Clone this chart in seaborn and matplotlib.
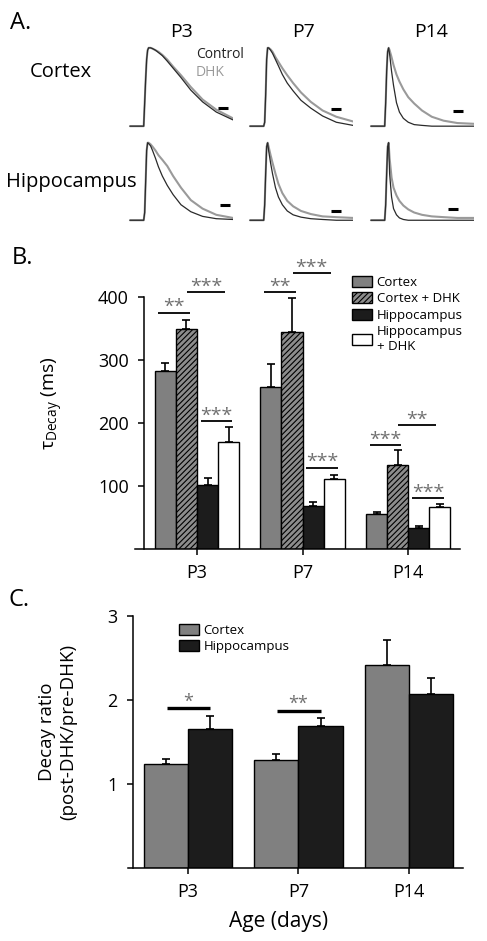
import matplotlib
matplotlib.use("Agg")
import matplotlib.pyplot as plt
from matplotlib.patches import Patch
import numpy as np
import pandas as pd
import seaborn as sns

# ---- data ----
ages = ["P3", "P7", "P14"]

# panel A: normalised example currents (time in trace units, 0..105)
trace_t = [0, 14, 15, 16, 17, 18, 19, 21, 23, 26, 29, 33, 38, 44, 52, 62, 74, 88, 105]
ctx_p3_ctrl = [0, 0, 0.3, 0.6, 0.85, 0.97, 1.0, 1.0, 0.99, 0.97, 0.94, 0.9, 0.83, 0.74, 0.62, 0.46, 0.31, 0.18, 0.08]
ctx_p3_dhk = [0, 0, 0.3, 0.6, 0.85, 0.97, 1.0, 1.0, 0.99, 0.97, 0.95, 0.91, 0.85, 0.76, 0.65, 0.5, 0.34, 0.21, 0.1]
ctx_p7_ctrl = [0, 0, 0.05, 0.4, 0.85, 1.0, 1.0, 0.97, 0.93, 0.85, 0.77, 0.66, 0.55, 0.45, 0.33, 0.23, 0.13, 0.05, 0.01]
ctx_p7_dhk = [0, 0, 0.05, 0.4, 0.85, 1.0, 1.0, 0.98, 0.95, 0.88, 0.82, 0.74, 0.65, 0.55, 0.43, 0.31, 0.2, 0.12, 0.06]
ctx_p14_ctrl = [0, 0, 0.3, 0.7, 0.95, 1.0, 0.92, 0.7, 0.52, 0.3, 0.18, 0.1, 0.05, 0.02, 0.01, 0, 0, 0, 0]
ctx_p14_dhk = [0, 0, 0.3, 0.7, 0.95, 1.0, 0.97, 0.88, 0.78, 0.66, 0.57, 0.47, 0.37, 0.29, 0.2, 0.12, 0.07, 0.04, 0.03]
hip_p3_ctrl = [0, 0, 0.1, 0.5, 0.9, 1.0, 0.99, 0.96, 0.9, 0.8, 0.69, 0.57, 0.45, 0.33, 0.2, 0.11, 0.05, 0.02, 0.01]
hip_p3_dhk = [0, 0, 0.1, 0.5, 0.9, 1.0, 1.0, 0.98, 0.95, 0.9, 0.84, 0.78, 0.7, 0.57, 0.42, 0.26, 0.15, 0.07, 0.03]
hip_p7_ctrl = [0, 0, 0.2, 0.6, 0.95, 1.0, 0.9, 0.74, 0.6, 0.42, 0.3, 0.2, 0.12, 0.07, 0.04, 0.02, 0.01, 0, 0]
hip_p7_dhk = [0, 0, 0.2, 0.6, 0.95, 1.0, 0.95, 0.84, 0.74, 0.6, 0.47, 0.35, 0.25, 0.18, 0.12, 0.08, 0.05, 0.04, 0.03]
hip_p14_ctrl = [0, 0, 0.2, 0.6, 0.95, 1.0, 0.6, 0.3, 0.15, 0.07, 0.03, 0.01, 0, 0, 0, 0, 0, 0, 0]
hip_p14_dhk = [0, 0, 0.2, 0.6, 0.95, 1.0, 0.8, 0.55, 0.42, 0.32, 0.25, 0.19, 0.14, 0.1, 0.07, 0.05, 0.04, 0.03, 0.03]

# panel B: decay time constants (ms), mean and SEM
conditions_b = ["Cortex", "Cortex + DHK", "Hippocampus", "Hippocampus\n+ DHK"]
tau_ctx = [283, 257, 55]
tau_ctx_dhk = [350, 345, 134]
tau_hip = [102, 68, 33]
tau_hip_dhk = [170, 111, 66]
sem_ctx = [12, 37, 4]
sem_ctx_dhk = [14, 54, 23]
sem_hip = [11, 6, 3]
sem_hip_dhk = [23, 7, 6]
# (age index, first bar, second bar, height, label)
sig_b = [(0, 0, 1, 375, "**"), (0, 1, 3, 408, "***"), (0, 2, 3, 203, "***"),
         (1, 0, 1, 408, "**"), (1, 1, 3, 438, "***"), (1, 2, 3, 129, "***"),
         (2, 0, 1, 165, "***"), (2, 1, 3, 197, "**"), (2, 2, 3, 81, "***")]

# panel C: decay ratio post-DHK / pre-DHK
regions_c = ["Cortex", "Hippocampus"]
ratio_ctx = [1.24, 1.28, 2.42]
ratio_hip = [1.66, 1.69, 2.07]
ratio_sem_ctx = [0.06, 0.08, 0.29]
ratio_sem_hip = [0.15, 0.10, 0.19]
sig_c = [(0, 1.9, "*"), (1, 1.87, "**")]

# ---- style ----
sns.set_theme(style="ticks")
plt.rcParams["font.family"] = ["Open Sans", "DejaVu Sans"]
plt.rcParams["mathtext.fontset"] = "custom"
plt.rcParams["mathtext.rm"] = "Open Sans"
plt.rcParams["hatch.color"] = "black"
plt.rcParams["hatch.linewidth"] = 0.8
plt.rcParams["axes.linewidth"] = 1.1
for key in ["text.color", "axes.labelcolor", "axes.edgecolor", "xtick.color", "ytick.color"]:
    plt.rcParams[key] = "black"

W, H = 487, 941
GREY = "#808080"
DARK = "#1c1c1c"


def box(left, top, right, bottom):
    return [left / W, 1 - bottom / H, (right - left) / W, (bottom - top) / H]


def label(x, y, s, **kw):
    fig.text(x / W, 1 - y / H, s, **kw)


fig = plt.figure(figsize=(W / 100, H / 100), dpi=100)

# ---- panel A ----
traces = [[(ctx_p3_ctrl, ctx_p3_dhk), (ctx_p7_ctrl, ctx_p7_dhk), (ctx_p14_ctrl, ctx_p14_dhk)],
          [(hip_p3_ctrl, hip_p3_dhk), (hip_p7_ctrl, hip_p7_dhk), (hip_p14_ctrl, hip_p14_dhk)]]
lefts = [128, 248, 369]
rows = [(40, 134), (135, 228)]
bar_pos = [[(0.86, 0.28), (0.79, 0.27), (0.80, 0.25)],
           [(0.88, 0.25), (0.79, 0.18), (0.75, 0.2)]]
for r, (top, bottom) in enumerate(rows):
    for c, left in enumerate(lefts):
        ax = fig.add_axes(box(left, top, left + 105, bottom))
        ctrl, dhk = traces[r][c]
        sns.lineplot(x=trace_t, y=dhk, ax=ax, color="#9a9a9a", lw=1.5)
        sns.lineplot(x=trace_t, y=ctrl, ax=ax, color="#2a2a2a", lw=0.9)
        ax.set_xlim(-2, 105)
        ax.set_ylim(-0.1, 1.1)
        bx, by = bar_pos[r][c]
        ax.plot([bx, bx + 0.095], [by, by], transform=ax.transAxes,
                color="black", lw=2.2, solid_capstyle="butt")
        ax.axis("off")

label(10, 23, "A.", fontsize=17, va="center")
for x, name in zip([181, 304, 431], ages):
    label(x, 32, name, fontsize=14, ha="center", va="center")
label(30, 72, "Cortex", fontsize=14.5, va="center")
label(6, 182, "Hippocampus", fontsize=14.5, va="center")
label(196, 54, "Control", fontsize=10, va="center", color="#222222")
label(196, 73, "DHK", fontsize=10, va="center", color="#999999")

# ---- panel B ----
df_b = pd.DataFrame({
    "age": ages * 4,
    "condition": np.repeat(conditions_b, len(ages)),
    "tau": tau_ctx + tau_ctx_dhk + tau_hip + tau_hip_dhk,
})
sems_b = [sem_ctx, sem_ctx_dhk, sem_hip, sem_hip_dhk]
face_b = [GREY, "#8c8c8c", DARK, "white"]

axb = fig.add_axes(box(135, 297, 460, 549))
sns.barplot(data=df_b, x="age", y="tau", hue="condition", order=ages,
            hue_order=conditions_b, palette=face_b, errorbar=None,
            edgecolor="black", linewidth=1.0, saturation=1, legend=False, ax=axb)
for i, (cont, errs) in enumerate(zip(axb.containers, sems_b)):
    for bar, err in zip(cont, errs):
        if i == 1:
            bar.set_hatch("//////")
        xc = bar.get_x() + bar.get_width() / 2
        axb.errorbar(xc, bar.get_height(), yerr=[[0], [err]], color="black",
                     lw=1.2, capsize=3, capthick=1.2, zorder=1)
offsets = [-0.3, -0.1, 0.1, 0.3]
for g, i, j, y, s in sig_b:
    mid = g + (offsets[i] + offsets[j]) / 2 - 0.015
    half = 0.15 + 0.03 * (j - i - 1)
    axb.plot([mid - half, mid + half], [y, y], color="black", lw=1.3,
             clip_on=False, solid_capstyle="butt")
    axb.annotate(s, (mid, y), xytext=(0, -2.5), textcoords="offset points",
                 ha="center", va="bottom", fontsize=14, color="#707070",
                 annotation_clip=False)
axb.set_xlim(-0.587, 2.49)
axb.set_ylim(0, 400)
axb.set_yticks([100, 200, 300, 400])
axb.set_xlabel("")
axb.set_ylabel(r"τ$_{\mathrm{Decay}}$ (ms)", fontsize=14)
axb.yaxis.set_label_coords(-0.215, 0.58)
axb.tick_params(labelsize=13, length=4, width=1.1, pad=7)
sns.despine(ax=axb)
axb.spines["left"].set_position(("outward", -6.5))
handles_b = [Patch(facecolor=f, edgecolor="black", lw=1.0, hatch=h)
             for f, h in zip(face_b, ["", "//////", "", ""])]
axb.legend(handles_b, conditions_b, loc="upper left", bbox_to_anchor=(0.668, 1.085),
           frameon=False, fontsize=9.5, handlelength=1.5, handleheight=0.95,
           handletextpad=0.35, labelspacing=0.25, borderpad=0, borderaxespad=0)
label(12, 258, "B.", fontsize=17, va="center")

# ---- panel C ----
df_c = pd.DataFrame({
    "age": ages * 2,
    "region": np.repeat(regions_c, len(ages)),
    "ratio": ratio_ctx + ratio_hip,
})
axc = fig.add_axes(box(128, 616, 463, 868))
sns.barplot(data=df_c, x="age", y="ratio", hue="region", order=ages,
            hue_order=regions_c, palette=[GREY, DARK], errorbar=None,
            edgecolor="black", linewidth=1.0, saturation=1, legend=False, ax=axc)
for cont, errs in zip(axc.containers, [ratio_sem_ctx, ratio_sem_hip]):
    for bar, err in zip(cont, errs):
        xc = bar.get_x() + bar.get_width() / 2
        axc.errorbar(xc, bar.get_height(), yerr=[[0], [err]], color="black",
                     lw=1.2, capsize=3, capthick=1.2, zorder=1)
for g, y, s in sig_c:
    axc.plot([g - 0.19, g + 0.2], [y, y], color="black", lw=2.4,
             solid_capstyle="butt")
    axc.annotate(s, (g, y), xytext=(0, -1.5), textcoords="offset points",
                 ha="center", va="bottom", fontsize=13, color="#707070")
axc.set_xlim(-0.543, 2.489)
axc.set_ylim(0, 3)
axc.set_yticks([1, 2, 3])
axc.set_xlabel("Age (days)", fontsize=15)
axc.xaxis.set_label_coords(0.45, -0.17)
axc.set_ylabel("Decay ratio\n(post-DHK/pre-DHK)", fontsize=13.5, linespacing=1.3)
axc.yaxis.set_label_coords(-0.15, 0.54)
axc.tick_params(labelsize=13, length=4, width=1.1, pad=7)
sns.despine(ax=axc)
axc.spines["left"].set_position(("outward", -3.6))
handles_c = [Patch(facecolor=f, edgecolor="black", lw=1.0) for f in [GREY, DARK]]
axc.legend(handles_c, regions_c, loc="upper left", bbox_to_anchor=(0.152, 0.97),
           frameon=False, fontsize=9.5, handlelength=1.5, handleheight=0.95,
           handletextpad=0.35, labelspacing=0.25, borderpad=0, borderaxespad=0)
label(8, 600, "C.", fontsize=17, va="center")

fig.savefig("out.png", dpi=100)
